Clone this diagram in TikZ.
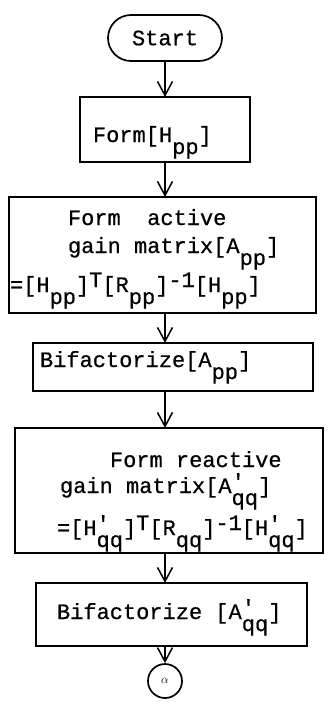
\documentclass[tikz,border=0pt]{standalone}
\usepackage{fontspec}
\setmonofont[FakeBold=0.6]{Liberation Mono}
\usetikzlibrary{arrows.meta}
% typewriter-style indices: lowered subscripts, slightly raised superscripts
\newcommand{\dn}[1]{\raisebox{-12pt}{#1}}
\newcommand{\up}[1]{\raisebox{5pt}{#1}}
% primed symbol with its lowered subscript under the prime
\newcommand{\prdn}[2]{\rlap{\raisebox{4pt}{#1}}\raisebox{-12pt}{#2}}
\begin{document}
\begin{tikzpicture}[x=1pt,y=-1pt,
  font=\ttfamily\fontsize{22}{26}\selectfont,
  line width=1.7pt,
  stepbox/.style={draw, rectangle, inner sep=0pt, outer sep=0pt},
  txt/.style={inner sep=0pt, outer sep=0pt, anchor=base west},
  arr/.style={-{Straight Barb[length=14pt,width=15pt,line width=1.5pt]}, line width=1.5pt}]
\useasboundingbox (0,0) rectangle (328,709);

% terminal
\node[draw, rounded corners=23pt, minimum width=114pt, minimum height=46pt,
      inner sep=0pt] (start) at (165,38) {Start};

% process boxes
\node[stepbox, minimum width=170pt, minimum height=65pt]  (form)   at (165,129.5) {};
\node[stepbox, minimum width=307pt, minimum height=116pt] (active) at (162.5,255) {};
\node[stepbox, minimum width=280pt, minimum height=48pt]  (bifa)   at (173,367) {};
\node[stepbox, minimum width=308pt, minimum height=125pt] (react)  at (169,490.5) {};
\node[stepbox, minimum width=271pt, minimum height=63pt]  (bifq)   at (171.5,614.5) {};

% off-page connector
\node[draw, circle, minimum size=34pt, inner sep=0pt] (conn) at (165,681)
      {\fontsize{12}{12}\selectfont$\alpha$};

% box texts
\node[txt] (formt) at (93,142) {Form[H\dn{pp}]};

\node[txt] (act1) at (68,225) {Form\ \ active};
\node[txt] (act2) at (68,253) {gain matrix[A\dn{pp}]};
\node[txt] (act3) at (10,292) {=[H\dn{pp}]\up{T}[R\dn{pp}]\up{-1}[H\dn{pp}]};

\node[txt] (bifat) at (40,367) {Bifactorize[A\dn{pp}]};

\node[txt] (rea1) at (110,467) {Form reactive};
\node[txt] (rea2) at (60,493) {gain matrix[A\prdn{′}{qq}]};
\node[txt] (rea3) at (57,535) {=[H\prdn{'}{qq}]\up{T}[R\dn{qq}]\up{-1}[H\prdn{'}{qq}]};

\node[txt] (bifqt) at (57,619) {Bifactorize [A\prdn{′}{qq}]};

% flow lines
\draw[arr] (start.south) -- (start.south |- form.north);
\draw[arr] (form.south -| start) -- (active.north -| start);
\draw[arr] (active.south -| start) -- (bifa.north -| start);
\draw[arr] (bifa.south -| start) -- (react.north -| start);
\draw[arr] (react.south -| start) -- (bifq.north -| start);
\draw[arr] (bifq.south -| start) -- (conn.north);
\end{tikzpicture}
\end{document}
